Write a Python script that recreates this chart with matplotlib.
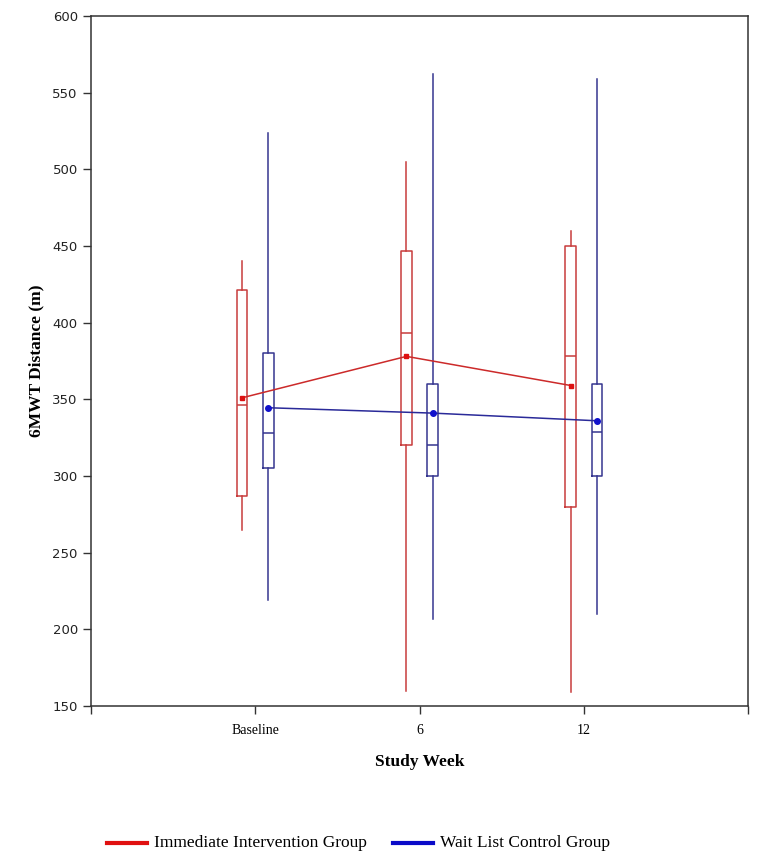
import matplotlib.pyplot as plt
import numpy as np

# study weeks on the x axis
weeks = ["Baseline", "6", "12"]

# Immediate Intervention Group: box stats per week
imm_whislo = [265, 160, 159]
imm_q1 = [287, 320, 280]
imm_med = [346, 393, 378]
imm_q3 = [421, 447, 450]
imm_whishi = [440, 505, 460]
imm_mean = [351, 378, 359]

# Wait List Control Group: box stats per week
wl_whislo = [219, 207, 210]
wl_q1 = [305, 300, 300]
wl_med = [328, 320, 329]
wl_q3 = [380, 360, 360]
wl_whishi = [524, 562, 559]
wl_mean = [344.5, 341, 336]

RED = "#c83c3c"
BLUE = "#35358f"
serif = ["Liberation Serif", "DejaVu Serif"]


def make_stats(lo, q1, med, q3, hi):
    return [dict(whislo=a, q1=b, med=c, q3=d, whishi=e, fliers=[])
            for a, b, c, d, e in zip(lo, q1, med, q3, hi)]


fig = plt.figure(figsize=(7.62, 8.64), dpi=100)
ax = fig.add_axes([0.1194, 0.1829, 0.8625, 0.7986])

pos = np.arange(1, len(weeks) + 1)
off = 0.08
w = 0.065

for stats, p, col in [
    (make_stats(imm_whislo, imm_q1, imm_med, imm_q3, imm_whishi), pos - off, RED),
    (make_stats(wl_whislo, wl_q1, wl_med, wl_q3, wl_whishi), pos + off, BLUE),
]:
    ax.bxp(stats, positions=p, widths=w, showcaps=False, patch_artist=False,
           boxprops=dict(color=col, lw=1.1),
           whiskerprops=dict(color=col, lw=1.1),
           medianprops=dict(color=col, lw=1.1),
           manage_ticks=False)

ax.plot(pos - off, imm_mean, color="#cc2a2a", lw=1.1, marker="s", ms=3.5,
        mfc="#dd1111", mec="#dd1111", zorder=5)
ax.plot(pos + off, wl_mean, color="#2a2a99", lw=1.1, marker="o", ms=4,
        mfc="#1111cc", mec="#1111cc", zorder=5)

ax.set_xlim(0, 4)
ax.set_ylim(150, 600)
ax.set_xticks([0, 1, 2, 3, 4])
ax.set_xticklabels([""] + weeks + [""], family=serif, fontsize=10)
ax.set_yticks(np.arange(150, 601, 50))
ax.set_yticklabels([str(v) for v in range(150, 601, 50)], family="DejaVu Sans",
                   fontsize=9.5, color="#222222")
ax.tick_params(direction="out", length=6, width=1, color="#333333")
ax.tick_params(axis="x", pad=7)
for s in ax.spines.values():
    s.set_color("#333333")
    s.set_linewidth(1.1)

ax.set_xlabel("Study Week", family=serif, fontsize=12.5, fontweight="bold", labelpad=12)
ax.set_ylabel("6MWT Distance (m)", family=serif, fontsize=12.5, fontweight="bold", labelpad=6)

# legend along the bottom
ly = 1 - 843 / 864
fig.lines.append(plt.Line2D([107 / 762, 147 / 762], [ly, ly],
                            transform=fig.transFigure, color="#e01010", lw=3))
fig.text(154 / 762, ly, "Immediate Intervention Group", family=serif,
         fontsize=12.5, va="center", ha="left")
fig.lines.append(plt.Line2D([393 / 762, 433 / 762], [ly, ly],
                            transform=fig.transFigure, color="#0a0ac8", lw=3))
fig.text(440 / 762, ly, "Wait List Control Group", family=serif,
         fontsize=12.5, va="center", ha="left")

fig.savefig("out.png", dpi=100)
